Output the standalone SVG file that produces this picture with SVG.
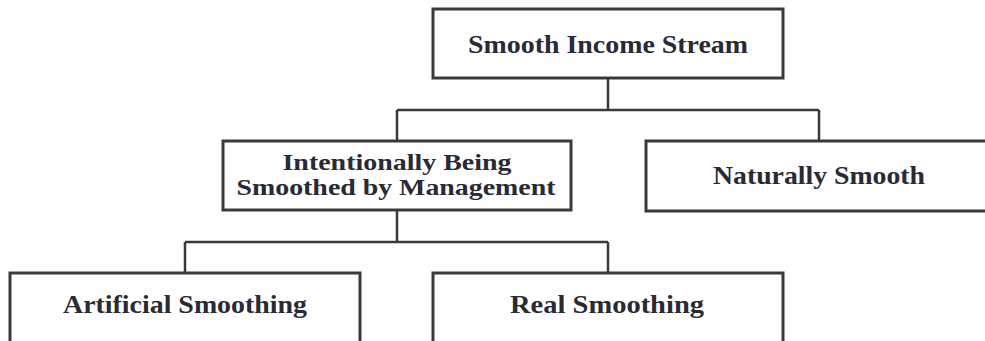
<svg xmlns="http://www.w3.org/2000/svg" width="985" height="341" viewBox="0 0 985 341">
<style>
.box{fill:#ffffff;stroke:#3a3a3a;stroke-width:3}
.ln{fill:none;stroke:#3a3a3a;stroke-width:2.5}
.t{font-family:"Liberation Serif","Times New Roman",serif;font-size:25px;fill:#2a2a35;text-anchor:middle;font-weight:bold;stroke:none}
.t2{font-size:23.5px}
</style>
<rect width="985" height="341" fill="#ffffff"/>
<g id="connectors">
<path class="ln" d="M608,78 V110 M397,110 H819 M397,110 V141 M819,110 V141"/>
<path class="ln" d="M397,210 V242 M185,242 H608 M185,242 V273 M608,242 V273"/>
</g>
<g id="n-smooth-income">
<rect class="box" x="433" y="9" width="350" height="69"/>
<text class="t" x="608" y="53" textLength="280" lengthAdjust="spacingAndGlyphs">Smooth Income Stream</text>
</g>
<g id="n-intentional">
<rect class="box" x="223" y="141" width="348" height="69"/>
<text class="t t2" x="397" y="170" textLength="229" lengthAdjust="spacingAndGlyphs">Intentionally Being</text>
<text class="t t2" x="396" y="195" textLength="319" lengthAdjust="spacingAndGlyphs">Smoothed by Management</text>
</g>
<g id="n-natural">
<rect class="box" x="646" y="141" width="345" height="70"/>
<text class="t" x="819" y="184" textLength="212" lengthAdjust="spacingAndGlyphs">Naturally Smooth</text>
</g>
<g id="n-artificial">
<rect class="box" x="10" y="273" width="350" height="80"/>
<text class="t" x="185" y="313" textLength="244" lengthAdjust="spacingAndGlyphs">Artificial Smoothing</text>
</g>
<g id="n-real">
<rect class="box" x="433" y="273" width="350" height="80"/>
<text class="t" x="607" y="313" textLength="194" lengthAdjust="spacingAndGlyphs">Real Smoothing</text>
</g>
</svg>
